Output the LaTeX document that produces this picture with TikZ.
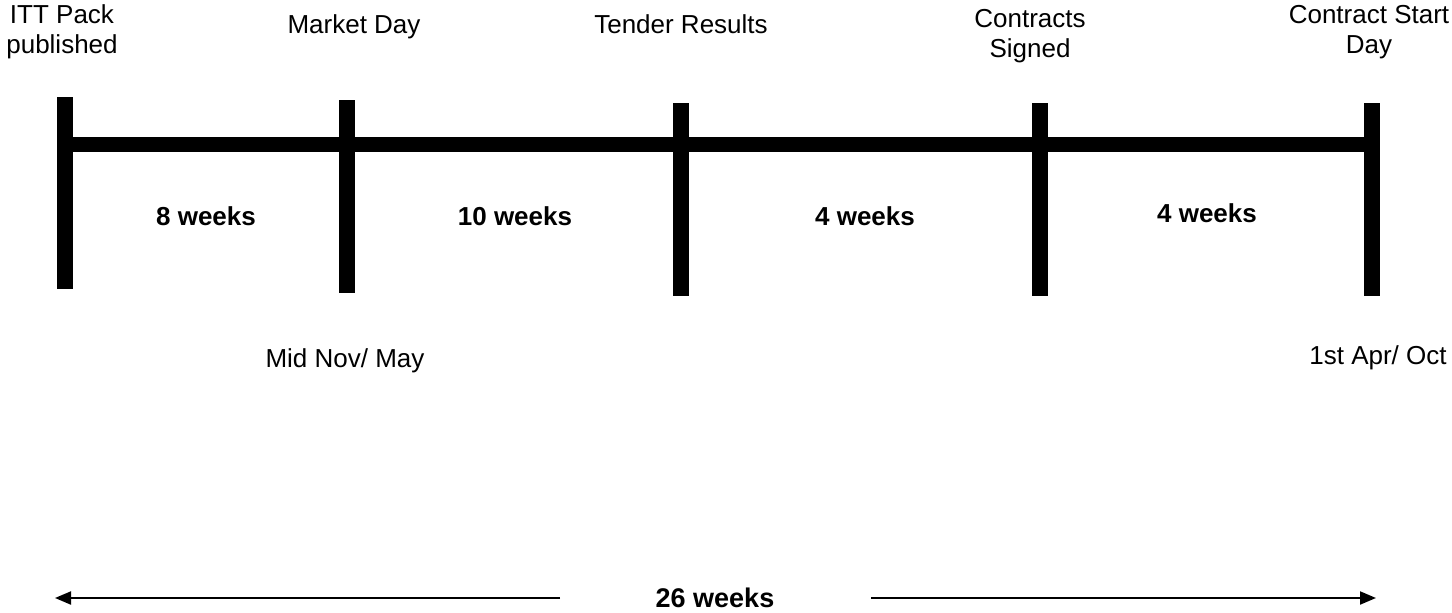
\documentclass[tikz,border=0pt]{standalone}
\usepackage{fontspec}
\setmainfont{Liberation Sans}
\usetikzlibrary{arrows.meta}
\begin{document}
\begin{tikzpicture}[x=1pt,y=-1pt,
  lbl/.style={inner sep=0pt, anchor=base, align=center, font=\fontsize{26}{29.5}\selectfont},
  dur/.style={inner sep=0pt, anchor=base, font=\fontsize{26}{29.5}\selectfont\bfseries},
  bar/.style={line width=16pt, line cap=butt},
  axis/.style={line width=15pt, line cap=butt},
  span/.style={line width=2pt, -{Triangle[length=16pt,width=13pt]}}]
\useasboundingbox (0,0) rectangle (1452,613);
% bars
\coordinate (t1) at (65,97);   \coordinate (b1) at (65,289);
\coordinate (t2) at (347,100); \coordinate (b2) at (347,293);
\coordinate (t3) at (681,103); \coordinate (b3) at (681,296);
\coordinate (t4) at (1039.5,103); \coordinate (b4) at (1039.5,296);
\coordinate (t5) at (1372,103); \coordinate (b5) at (1372,296);
\coordinate (a1) at (65,144.5); \coordinate (a5) at (1372,144.5);
\draw[axis] (a1) -- (a5);
\foreach \i in {1,...,5} \draw[bar] (t\i) -- (b\i);
% top labels (base anchor = baseline of last line)
\node[lbl] (l1) at (62,53) {ITT Pack\\published};
\node[lbl] (l2) at (354,34) {Market Day};
\node[lbl] (l3) at (681,33) {Tender Results};
\node[lbl] (l4) at (1030,57) {Contracts\\Signed};
\node[lbl] (l5) at (1369,53) {Contract Start\\Day};
% durations
\node[dur] (d1) at (206,225) {8 weeks};
\node[dur] (d2) at (515,225) {10 weeks};
\node[dur] (d3) at (865,225) {4 weeks};
\node[dur] (d4) at (1207,222.5) {4 weeks};
% dates
\node[lbl] (m1) at (345,367) {Mid Nov/ May};
\node[lbl] (m2) at (1378,364) {1st Apr/ Oct};
% total
\node[dur, font=\fontsize{27}{30}\selectfont\bfseries] (tot) at (715,607) {26 weeks};
\coordinate (la) at (560,598); \coordinate (lt) at (55,598);
\coordinate (ra) at (871,598); \coordinate (rt) at (1376,598);
\draw[span] (la) -- (lt);
\draw[span] (ra) -- (rt);
\end{tikzpicture}
\end{document}
